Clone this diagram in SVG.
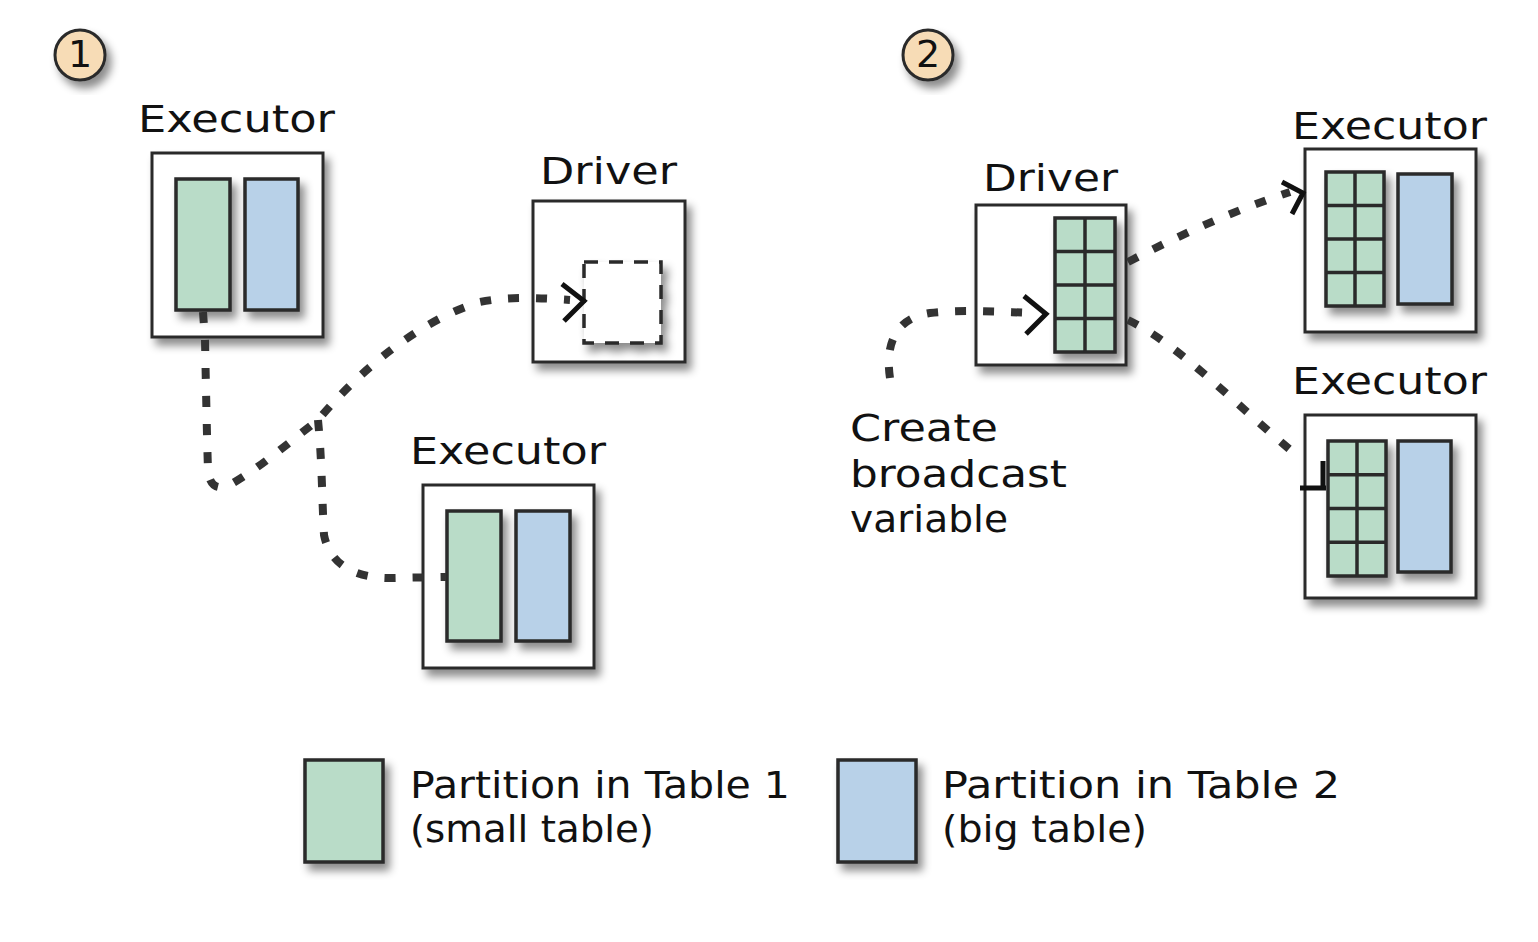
<svg xmlns="http://www.w3.org/2000/svg" width="1538" height="942" viewBox="0 0 1538 942">
<defs>
<filter id="sh" x="-20%" y="-20%" width="150%" height="150%">
<feDropShadow dx="5" dy="7" stdDeviation="4" flood-color="#000" flood-opacity="0.45"/>
</filter>
<style>
.box{fill:#fff;stroke:#2a2a2a;stroke-width:3;filter:url(#sh)}
.g{fill:#b9dcc8;stroke:#2a2a2a;stroke-width:3.5;filter:url(#sh)}
.b{fill:#b8d1e8;stroke:#2a2a2a;stroke-width:3.5;filter:url(#sh)}
.gl{stroke:#2a2a2a;stroke-width:3.5;fill:none}
.lbl{font-family:"DejaVu Sans","Noto Sans",sans-serif;font-size:38px;fill:#111}
.dot{fill:none;stroke:#333;stroke-width:8;stroke-dasharray:11 17;stroke-linecap:butt}
.arr{fill:none;stroke:#111;stroke-width:5;stroke-linecap:butt;stroke-linejoin:miter}
.num{fill:#f7dcb6;stroke:#2a2a2a;stroke-width:3;filter:url(#sh)}
</style>
</defs>
<rect width="1538" height="942" fill="#fff"/>

<g id="step1">
<circle class="num" cx="80" cy="55" r="25"/>
<text class="lbl" x="80" y="67" text-anchor="middle" font-size="32">1</text>
</g>
<g id="step2">
<circle class="num" cx="928" cy="55" r="25"/>
<text class="lbl" x="928" y="67" text-anchor="middle" font-size="32">2</text>
</g>

<g id="executor1">
<text class="lbl" x="138" y="132" textLength="197" lengthAdjust="spacingAndGlyphs">Executor</text>
<rect class="box" x="152" y="153" width="171" height="184"/>
<rect class="g" x="176" y="179" width="54" height="131"/>
<rect class="b" x="245" y="179" width="53" height="131"/>
</g>

<g id="driver1">
<text class="lbl" x="540" y="184" textLength="137" lengthAdjust="spacingAndGlyphs">Driver</text>
<rect class="box" x="533" y="201" width="152" height="161"/>
<rect x="584" y="262" width="77" height="81" fill="#fff" stroke="#2a2a2a" stroke-width="3.5" stroke-dasharray="14 11" filter="url(#sh)"/>
</g>

<g id="executor2">
<text class="lbl" x="410" y="464" textLength="196" lengthAdjust="spacingAndGlyphs">Executor</text>
<rect class="box" x="423" y="485" width="171" height="183"/>
<rect class="g" x="447" y="511" width="54" height="130"/>
<rect class="b" x="516" y="511" width="54" height="130"/>
</g>

<g id="driver2">
<text class="lbl" x="983" y="191" textLength="135" lengthAdjust="spacingAndGlyphs">Driver</text>
<rect class="box" x="976" y="205" width="150" height="160"/>
<rect class="g" x="1055" y="218" width="60" height="134"/>
<path class="gl" d="M1085,218 V352 M1055,251.5 H1115 M1055,285 H1115 M1055,318.5 H1115"/>
</g>

<g id="caption">
<text class="lbl" x="850" y="441" textLength="148" lengthAdjust="spacingAndGlyphs">Create</text>
<text class="lbl" x="850" y="487" textLength="217" lengthAdjust="spacingAndGlyphs">broadcast</text>
<text class="lbl" x="850" y="532" textLength="158" lengthAdjust="spacingAndGlyphs">variable</text>
</g>

<g id="executor3">
<text class="lbl" x="1292" y="139" textLength="195" lengthAdjust="spacingAndGlyphs">Executor</text>
<rect class="box" x="1305" y="149" width="171" height="183"/>
<rect class="g" x="1326" y="172" width="58" height="134"/>
<path class="gl" d="M1355,172 V306 M1326,205.5 H1384 M1326,239 H1384 M1326,272.5 H1384"/>
<rect class="b" x="1398" y="174" width="54" height="130"/>
</g>

<g id="executor4">
<text class="lbl" x="1292" y="394" textLength="195" lengthAdjust="spacingAndGlyphs">Executor</text>
<rect class="box" x="1305" y="415" width="171" height="183"/>
<rect class="g" x="1328" y="441" width="58" height="135"/>
<path class="gl" d="M1357,441 V576 M1328,474.75 H1386 M1328,508.5 H1386 M1328,542.25 H1386"/>
<rect class="b" x="1398" y="441" width="53" height="131"/>
</g>

<g id="legend1">
<rect class="g" x="305" y="760" width="78" height="102"/>
<text class="lbl" x="410" y="798" textLength="380" lengthAdjust="spacingAndGlyphs">Partition in Table 1</text>
<text class="lbl" x="410" y="842" textLength="244" lengthAdjust="spacingAndGlyphs">(small table)</text>
</g>
<g id="legend2">
<rect class="b" x="838" y="760" width="78" height="102"/>
<text class="lbl" x="942" y="798" textLength="398" lengthAdjust="spacingAndGlyphs">Partition in Table 2</text>
<text class="lbl" x="942" y="842" textLength="205" lengthAdjust="spacingAndGlyphs">(big table)</text>
</g>

<g id="connectors">
<path class="dot" d="M203,312 L205,340 C206,390 207,440 208,470 Q210,492 228,486 C260,468 292,440 318,420 C360,370 420,320 480,302 C510,296 540,298 570,300"/>
<path class="dot" d="M318,420 C322,460 322,500 324,535 C330,565 355,578 390,578 L446,577"/>
<path class="dot" d="M890,378 C885,345 895,318 930,313 C965,309 1000,312 1035,313"/>
<path class="dot" d="M1128,262 C1180,235 1230,212 1290,192"/>
<path class="dot" d="M1128,320 C1180,345 1230,400 1300,458"/>
<path class="arr" d="M562,284 L584,301 L564,321"/>
<path class="arr" d="M1024,296 L1046,314 L1026,334"/>
<path class="arr" d="M1282,182 L1303,193 L1292,214"/>
<path class="arr" d="M1300,488 L1326,488 M1323,461 L1323,490"/>
</g>
</svg>
